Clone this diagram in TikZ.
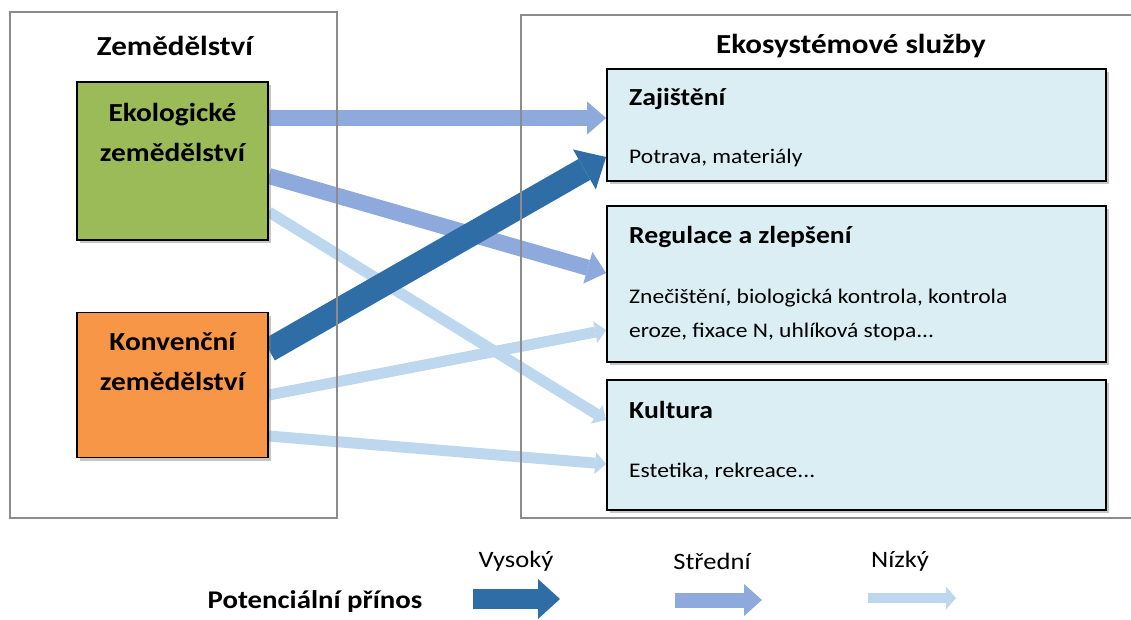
\documentclass[tikz,border=0pt]{standalone}
\usepackage{fontspec}
\setmainfont{Carlito}[FakeStretch=1.13]
\usetikzlibrary{arrows.meta,shadows}
\definecolor{hiC}{HTML}{2E6DA6}
\definecolor{midC}{HTML}{8EA9DB}
\definecolor{lowC}{HTML}{BDD7EE}
\definecolor{greenC}{HTML}{9BBB59}
\definecolor{orangeC}{HTML}{F79646}
\definecolor{esC}{HTML}{DAEEF3}
\definecolor{frameC}{HTML}{8C8C8C}
\pgfdeclarelayer{bg}
\pgfsetlayers{bg,main}
\tikzset{
  frame/.style={draw=frameC, line width=1.3pt},
  sbox/.style={draw=black, line width=1.8pt, inner sep=0pt,
    drop shadow={shadow xshift=3pt, shadow yshift=-3pt, opacity=0.45, fill=gray}},
  agbox/.style={sbox, minimum width=191pt},
  esbox/.style={sbox, fill=esC, minimum width=499pt},
  agtext/.style={font=\fontsize{26}{40}\selectfont\bfseries, align=center, inner sep=0pt},
  hdr/.style={font=\fontsize{27.5}{30}\selectfont\bfseries, inner sep=0pt},
  estitle/.style={font=\fontsize{24.5}{30}\selectfont\bfseries, anchor=west, inner sep=0pt},
  estext/.style={font=\fontsize{20.8}{34}\selectfont, anchor=west, align=left, inner sep=0pt},
  leg/.style={font=\fontsize{23.5}{28}\selectfont, inner sep=0pt},
  hiarrow/.style={draw=hiC, line width=24pt, -{Triangle[length=25pt,width=46pt,line width=0pt]}},
  midarrow/.style={draw=midC, line width=16pt, -{Triangle[length=19pt,width=33pt,line width=0pt]}},
  lowarrow/.style={draw=lowC, line width=11pt, -{Triangle[length=11pt,width=22pt,line width=0pt]}},
  leghi/.style={draw=hiC, line width=20pt, -{Triangle[length=22pt,width=40pt,line width=0pt]}},
  legmid/.style={draw=midC, line width=15pt, -{Triangle[length=18pt,width=32pt,line width=0pt]}},
  leglow/.style={draw=lowC, line width=10pt, -{Triangle[length=10pt,width=23pt,line width=0pt]}},
}
\begin{document}
\begin{tikzpicture}[x=1pt,y=-1pt]
\useasboundingbox (0,0) rectangle (1131,619);
% frames
\draw[frame] (10,12) rectangle (337,518);
\draw[frame] (1131,15) -- (521,15) -- (521,518) -- (1131,518);
\node[hdr] (hagr) at (175,46) {Zemědělství};
\node[hdr] (hes) at (851,46) {Ekosystémové služby};
% agriculture boxes
\node[agbox, fill=greenC, minimum height=158pt] (eko) at (172.5,161) {};
\node[agtext] (ekoT) at (172.5,132) {Ekologické\\zemědělství};
\node[agbox, fill=orangeC, minimum height=145pt] (konv) at (172.5,385) {};
\node[agtext] (konvT) at (172.5,362) {Konvenční\\zemědělství};
% ecosystem service boxes
\node[esbox, minimum height=112pt] (zaj) at (856.5,125) {};
\node[estitle] (zajT) at (629,99) {Zajištění};
\node[estext] (zajS) at (629,158) {Potrava, materiály};
\node[esbox, minimum height=156pt] (reg) at (856.5,284) {};
\node[estitle] (regT) at (629,237) {Regulace a zlepšení};
\node[estext] (regS) at (629,315) {Znečištění, biologická kontrola, kontrola\\eroze, fixace N, uhlíková stopa...};
\node[esbox, minimum height=130pt] (kul) at (856.5,445) {};
\node[estitle] (kulT) at (629,410) {Kultura};
\node[estext] (kulS) at (629,472) {Estetika, rekreace...};
% arrows
\begin{pgfonlayer}{bg}
\draw[midarrow] ([yshift=43pt]eko.east) -- ([yshift=7pt]zaj.west);
\draw[midarrow] ([yshift=-15pt]eko.east) -- ([yshift=11pt]reg.west);
\draw[lowarrow] ([yshift=-51pt]eko.east) -- ([yshift=25pt]kul.west);
\draw[hiarrow] ([yshift=35pt]konv.east) -- ([yshift=-32pt]zaj.west);
\draw[lowarrow] ([yshift=-10pt]konv.east) -- ([yshift=-46pt]reg.west);
\draw[lowarrow] ([yshift=-51pt]konv.east) -- ([yshift=-19pt]kul.west);
\end{pgfonlayer}
% legend
\node[hdr, font=\fontsize{25.5}{28}\selectfont\bfseries] (legT) at (315,602) {Potenciální přínos};
\node[leg] (lv) at (516,561) {Vysoký};
\node[leg] (ls) at (712,561) {Střední};
\node[leg] (ln) at (900,561) {Nízký};
\coordinate (h1) at (473,599); \coordinate (h2) at (560,599);
\coordinate (m1) at (675,600); \coordinate (m2) at (762,600);
\coordinate (l1) at (868,598); \coordinate (l2) at (956,598);
\draw[leghi] (h1) -- (h2);
\draw[legmid] (m1) -- (m2);
\draw[leglow] (l1) -- (l2);
\end{tikzpicture}
\end{document}
